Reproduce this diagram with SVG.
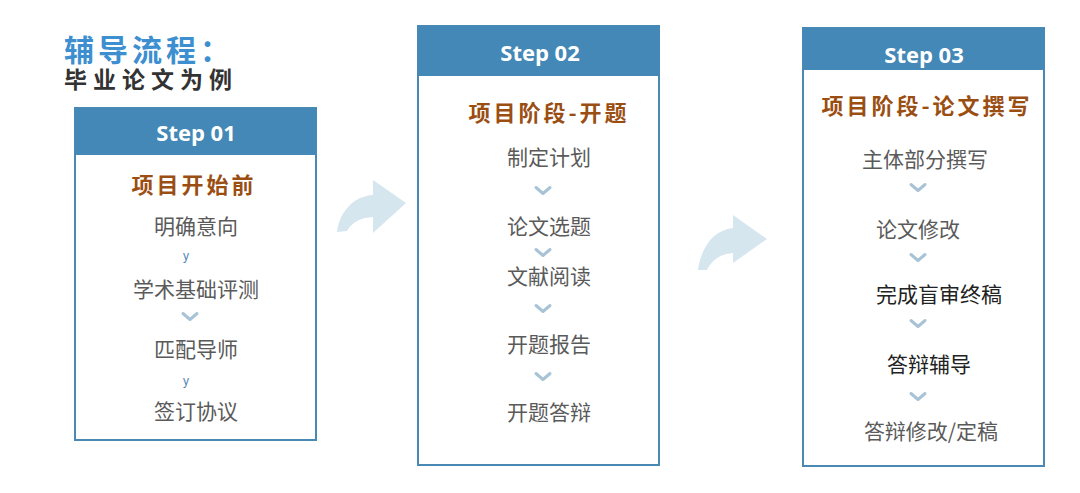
<svg xmlns="http://www.w3.org/2000/svg" width="1080" height="493" viewBox="0 0 1080 493">
<defs>
<style>
.box{fill:#fff;stroke:#4a89b4;stroke-width:2}
.hdr{fill:#4388b6}
.step{font-family:"Open Sans","Liberation Sans",sans-serif;font-weight:bold;font-size:22px;fill:#fff;text-anchor:middle;dominant-baseline:central}
.ttl{font-family:"Noto Sans CJK SC",sans-serif;font-weight:bold;font-size:22px;fill:#9a4e12;text-anchor:middle;dominant-baseline:central;letter-spacing:3px}
.itm{font-family:"Noto Sans CJK SC",sans-serif;font-size:21px;fill:#5a5a5a;text-anchor:middle;dominant-baseline:central}
.dk{fill:#222}
.y{font-family:"Liberation Sans",sans-serif;font-size:12px;fill:#4f86b5;text-anchor:middle;dominant-baseline:central}
.chev{fill:none;stroke:#a7c3d5;stroke-width:3;stroke-linecap:round;stroke-linejoin:round}
.arr{fill:#d6e6ef}
</style>
<polyline id="cv" class="chev" points="-7,-3.5 0,2.5 7,-3.5"/>
</defs>
<rect width="1080" height="493" fill="#fff"/>
<g id="heading">
<text x="64" y="48" font-family="Noto Sans CJK SC,sans-serif" font-weight="bold" font-size="30" fill="#3d8fd0" letter-spacing="4" dominant-baseline="central">辅导流程：</text>
<text x="64" y="78" font-family="Noto Sans CJK SC,sans-serif" font-weight="bold" font-size="23" fill="#333" letter-spacing="6" dominant-baseline="central">毕业论文为例</text>
</g>
<g id="connectors">
<path class="arr" d="M406,203 L373,180 L373,195 C355,196 340,210 337,232 L347,231 C352,222 360,218 373,217 L373,233 Z"/>
<path class="arr" d="M767,239 L733,215 L733,228 C713,230 701,248 698,270 L707,270 C712,260 720,254 733,253 L733,263 Z"/>
</g>
<g id="step1">
<rect class="box" x="75" y="108" width="241" height="332"/>
<rect class="hdr" x="75" y="108" width="241" height="47"/>
<text class="step" x="196" y="132">Step 01</text>
<text class="ttl" x="194" y="183" font-size="26" letter-spacing="0">项目开始前</text>
<text class="itm" x="196" y="225">明确意向</text>
<text class="y" x="186" y="256">y</text>
<text class="itm" x="196" y="288">学术基础评测</text>
<use href="#cv" x="190" y="317"/>
<text class="itm" x="196" y="348">匹配导师</text>
<text class="y" x="186" y="381">y</text>
<text class="itm" x="196" y="410">签订协议</text>
</g>
<g id="step2">
<rect class="box" x="418" y="26" width="241" height="439"/>
<rect class="hdr" x="418" y="26" width="241" height="50"/>
<text class="step" x="540" y="52">Step 02</text>
<text class="ttl" x="549" y="111">项目阶段-开题</text>
<text class="itm" x="549" y="156">制定计划</text>
<use href="#cv" x="543" y="191"/>
<text class="itm" x="549" y="225">论文选题</text>
<use href="#cv" x="543" y="253"/>
<text class="itm" x="549" y="275">文献阅读</text>
<use href="#cv" x="543" y="309"/>
<text class="itm" x="549" y="343">开题报告</text>
<use href="#cv" x="543" y="377"/>
<text class="itm" x="549" y="411">开题答辩</text>
</g>
<g id="step3">
<rect class="box" x="803" y="28" width="241" height="438"/>
<rect class="hdr" x="803" y="28" width="241" height="42"/>
<text class="step" x="924" y="54">Step 03</text>
<text class="ttl" x="927" y="104">项目阶段-论文撰写</text>
<text class="itm" x="925" y="158">主体部分撰写</text>
<use href="#cv" x="918" y="188"/>
<text class="itm" x="918" y="228">论文修改</text>
<use href="#cv" x="918" y="258"/>
<text class="itm dk" x="939" y="293">完成盲审终稿</text>
<use href="#cv" x="918" y="324"/>
<text class="itm dk" x="929" y="363">答辩辅导</text>
<use href="#cv" x="918" y="397"/>
<text class="itm" x="931" y="430">答辩修改/定稿</text>
</g>
</svg>
